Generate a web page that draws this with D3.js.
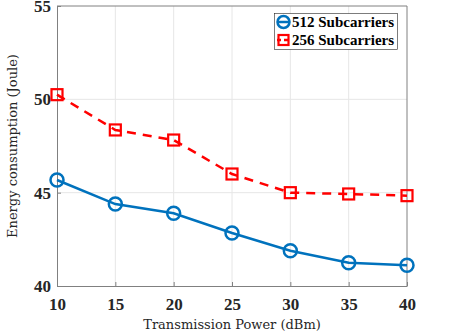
<!DOCTYPE html>
<html>
<head>
<meta charset="utf-8">
<script src="https://cdn.jsdelivr.net/npm/d3@7"></script>
<style>
  body { margin: 0; background: #fff; }
  svg { display: block; }
</style>
</head>
<body>
<div id="chart"></div>
<script>
// data
var power = [10, 15, 20, 25, 30, 35, 40];
var sub512 = [45.68, 44.39, 43.9, 42.84, 41.89, 41.25, 41.11];
var sub256 = [50.25, 48.36, 47.82, 46.0, 45.0, 44.93, 44.84];
var xTicks = [10, 15, 20, 25, 30, 35, 40];
var yTicks = [40, 45, 50, 55];

var W = 463, H = 334;
var pLeft = 57, pTop = 6, pRight = 407, pBottom = 286;

var svg = d3.select("#chart").append("svg")
	.attr("width", W)
	.attr("height", H);

var x = d3.scaleLinear().domain([10, 40]).range([pLeft, pRight]);
var y = d3.scaleLinear().domain([40, 55]).range([pBottom, pTop]);

// grid
svg.append("g").selectAll("line")
	.data(xTicks.slice(1, -1))
	.enter().append("line")
	.attr("x1", function(d) { return x(d) }).attr("x2", function(d) { return x(d) })
	.attr("y1", pTop).attr("y2", pBottom)
	.attr("stroke", "#e6e6e6").attr("stroke-width", 1);

svg.append("g").selectAll("line")
	.data(yTicks.slice(1, -1))
	.enter().append("line")
	.attr("y1", function(d) { return y(d) }).attr("y2", function(d) { return y(d) })
	.attr("x1", pLeft).attr("x2", pRight)
	.attr("stroke", "#e6e6e6").attr("stroke-width", 1);

// axes (MATLAB style: ticks inward, box on)
var xAxis = svg.append("g")
	.attr("transform", "translate(0," + pBottom + ")")
	.call(d3.axisBottom(x).tickValues(xTicks).tickSizeInner(-4).tickSizeOuter(0).tickPadding(12));
var yAxis = svg.append("g")
	.attr("transform", "translate(" + pLeft + ",0)")
	.call(d3.axisLeft(y).tickValues(yTicks).tickSizeInner(-4).tickSizeOuter(0).tickPadding(6));

[xAxis, yAxis].forEach(function(a) {
	a.select(".domain").attr("stroke", "#808080");
	a.selectAll(".tick line").attr("stroke", "#808080");
	a.selectAll("text")
		.attr("fill", "#262626")
		.style("font-family", "'Liberation Serif', 'Times New Roman', serif")
		.style("font-weight", "bold")
		.style("font-size", "17px");
});

// top & right box lines
svg.append("line").attr("x1", pLeft).attr("x2", pRight).attr("y1", pTop).attr("y2", pTop)
	.attr("stroke", "#808080");
svg.append("line").attr("x1", pRight).attr("x2", pRight).attr("y1", pTop).attr("y2", pBottom)
	.attr("stroke", "#808080");

// lines
var line = d3.line()
	.x(function(d, i) { return x(power[i]) })
	.y(function(d) { return y(d) });

svg.append("path").datum(sub256)
	.attr("d", line)
	.attr("fill", "none")
	.attr("stroke", "#ff0000")
	.attr("stroke-width", 2.5)
	.attr("stroke-dasharray", "9,7");

svg.append("path").datum(sub512)
	.attr("d", line)
	.attr("fill", "none")
	.attr("stroke", "#0072bd")
	.attr("stroke-width", 2.5);

// markers
svg.append("g").selectAll("rect")
	.data(sub256)
	.enter().append("rect")
	.attr("x", function(d, i) { return x(power[i]) - 5.5 })
	.attr("y", function(d) { return y(d) - 5.5 })
	.attr("width", 11).attr("height", 11)
	.attr("fill", "none")
	.attr("stroke", "#ff0000")
	.attr("stroke-width", 2.2);

svg.append("g").selectAll("circle")
	.data(sub512)
	.enter().append("circle")
	.attr("cx", function(d, i) { return x(power[i]) })
	.attr("cy", function(d) { return y(d) })
	.attr("r", 6.5)
	.attr("fill", "none")
	.attr("stroke", "#0072bd")
	.attr("stroke-width", 2.5);

// axis labels
svg.append("text")
	.attr("x", (pLeft + pRight) / 2).attr("y", 329)
	.attr("text-anchor", "middle")
	.attr("fill", "#262626")
	.style("font-family", "'DejaVu Serif', serif")
	.style("font-size", "13px")
	.text("Transmission Power (dBm)");

svg.append("text")
	.attr("transform", "translate(17," + ((pTop + pBottom) / 2) + ") rotate(-90)")
	.attr("text-anchor", "middle")
	.attr("fill", "#262626")
	.style("font-family", "'DejaVu Serif', serif")
	.style("font-size", "13px")
	.text("Energy consumption (Joule)");

// legend
var legend = svg.append("g");
legend.append("rect")
	.attr("x", 274.5).attr("y", 13.5).attr("width", 123).attr("height", 36)
	.attr("fill", "#fff").attr("stroke", "#262626").attr("stroke-width", 0.6);

var items = [
	{ name: "512 Subcarriers", color: "#0072bd", shape: "circle", dash: null },
	{ name: "256 Subcarriers", color: "#ff0000", shape: "rect", dash: "4,3" }
];

items.forEach(function(it, i) {
	var cy = 22 + i * 18;
	legend.append("line")
		.attr("x1", 277).attr("x2", 290).attr("y1", cy).attr("y2", cy)
		.attr("stroke", it.color).attr("stroke-width", 2.5)
		.attr("stroke-dasharray", it.dash);
	if (it.shape == "circle") {
		legend.append("circle").attr("cx", 283.5).attr("cy", cy).attr("r", 6)
			.attr("fill", "none").attr("stroke", it.color).attr("stroke-width", 2.5);
	} else {
		legend.append("rect").attr("x", 278.5).attr("y", cy - 5).attr("width", 10).attr("height", 10)
			.attr("fill", "none").attr("stroke", it.color).attr("stroke-width", 2.2);
	}
	legend.append("text")
		.attr("x", 292).attr("y", cy + 5)
		.attr("fill", "#000")
		.style("font-family", "'Liberation Serif', 'Times New Roman', serif")
		.style("font-weight", "bold")
		.style("font-size", "15px")
		.text(it.name);
});
</script>
</body>
</html>
